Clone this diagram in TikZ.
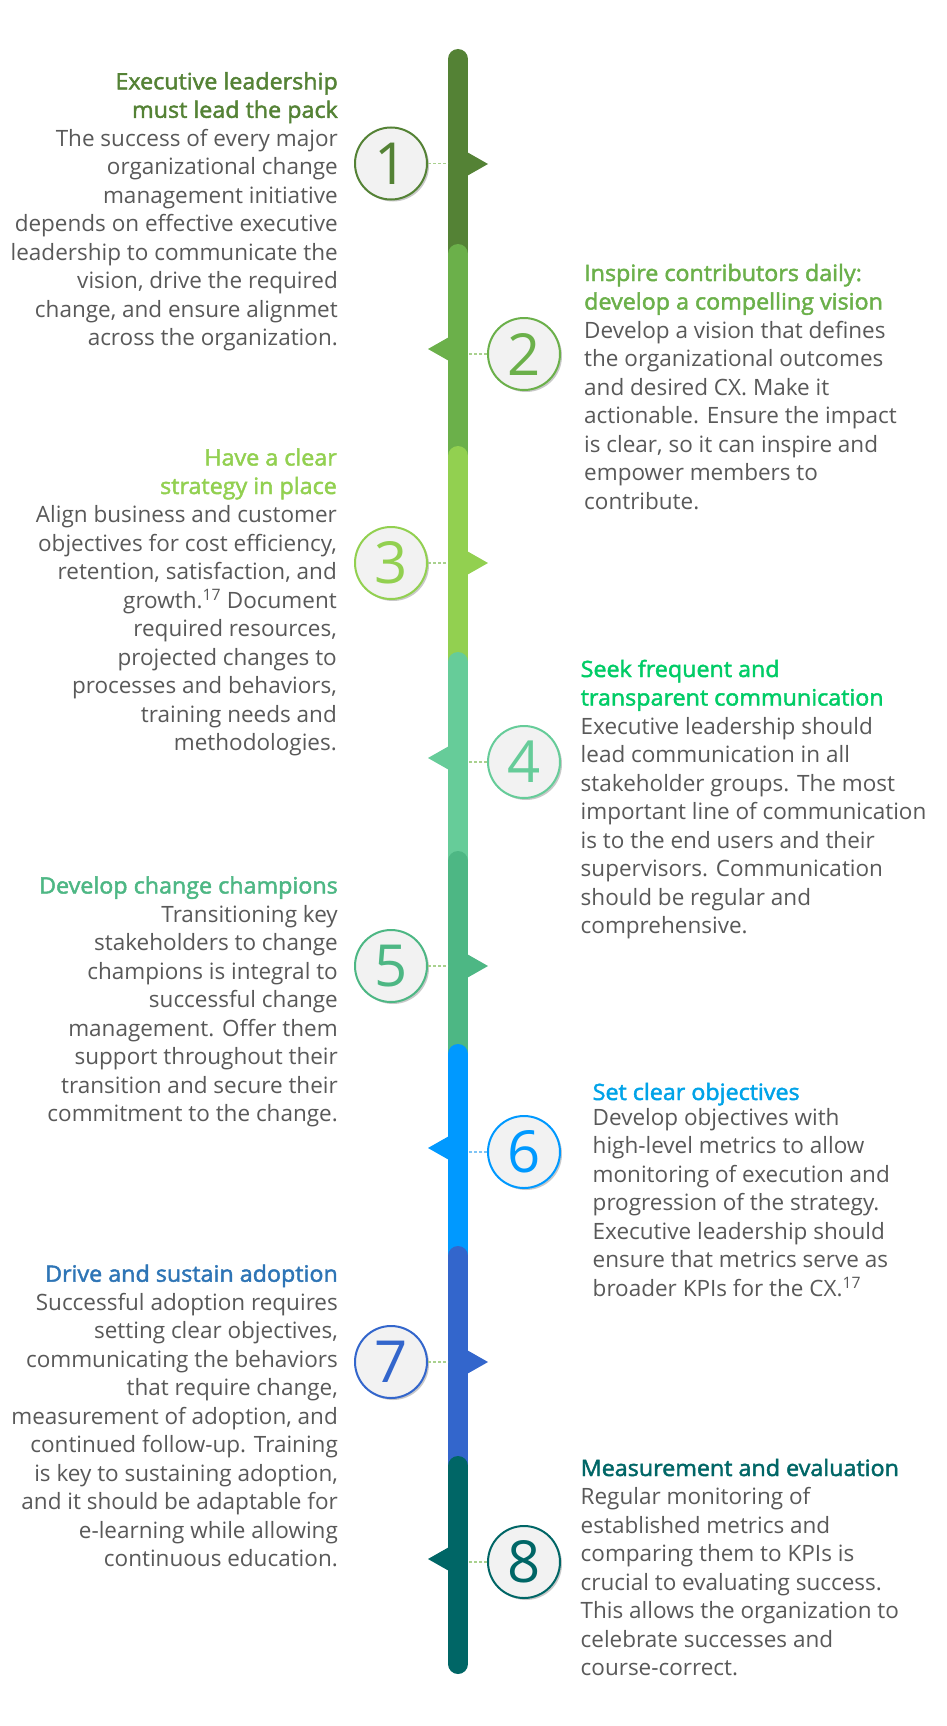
\documentclass[tikz,border=0pt]{standalone}
\usepackage{fontspec}
\setmainfont{Open Sans}
\newfontfamily\titlefont[FakeBold=2,FakeStretch=1.035]{Open Sans}
\usetikzlibrary{shadows}
\definecolor{c1}{HTML}{548235}
\definecolor{c2}{HTML}{6BB04A}
\definecolor{c3}{HTML}{92D050}
\definecolor{c4}{HTML}{66CC99}
\definecolor{c5}{HTML}{4DB784}
\definecolor{c6}{HTML}{0099FF}
\definecolor{c7}{HTML}{3366CC}
\definecolor{c8}{HTML}{006666}
\definecolor{t4}{HTML}{00CC66}
\definecolor{t6}{HTML}{00A3E8}
\definecolor{t7}{HTML}{2E75B6}
\definecolor{txt}{HTML}{595959}
\definecolor{cfill}{HTML}{F2F2F2}
\definecolor{dotg}{HTML}{A9D18E}
\definecolor{dotb}{HTML}{7FC4F5}
\newcommand\ttl[2]{{\titlefont\color{#1}#2}}
\begin{document}
\begin{tikzpicture}[x=1pt,y=-1pt,
  seg/.style={line width=20pt, line cap=round},
  num/.style={circle, draw=#1, text=#1, line width=2pt, fill=cfill, minimum size=72pt, inner sep=0pt,
    font=\fontsize{58}{58}\selectfont,
    drop shadow={shadow xshift=2pt, shadow yshift=-2pt, opacity=0.3, fill=black!70}},
  body/.style={text=txt, font=\fontsize{22.5}{28.5}\selectfont, inner sep=0pt},
  lbody/.style={body, align=right, anchor=base east},
  rbody/.style={body, align=left, anchor=base west},
  dots/.style={line width=1.5pt, dash pattern=on 3pt off 2pt}]
\useasboundingbox[fill=white] (0,0) rectangle (947,1726);
\coordinate (bl) at (448,0);
\coordinate (br) at (468,0);
% bar segments
\draw[seg, c1] (458,59) -- (458,260);
\draw[seg, c2] (458,254) -- (458,462);
\draw[seg, c3] (458,456) -- (458,668);
\draw[seg, c4] (458,662) -- (458,867);
\draw[seg, c5] (458,861) -- (458,1060);
\draw[seg, c6] (458,1054) -- (458,1262);
\draw[seg, c7] (458,1256) -- (458,1472);
\draw[seg, c8] (458,1466) -- (458,1664);
% triangles
\fill[c1] (466,151.5) -- (488,164) -- (466,176.5) -- cycle;
\fill[c2] (450,336.5) -- (428,349) -- (450,361.5) -- cycle;
\fill[c3] (466,550.5) -- (488,563) -- (466,575.5) -- cycle;
\fill[c4] (450,745.5) -- (428,758) -- (450,770.5) -- cycle;
\fill[c5] (466,953.5) -- (488,966) -- (466,978.5) -- cycle;
\fill[c6] (450,1135.5) -- (428,1148) -- (450,1160.5) -- cycle;
\fill[c7] (466,1349.5) -- (488,1362) -- (466,1374.5) -- cycle;
\fill[c8] (450,1546.5) -- (428,1559) -- (450,1571.5) -- cycle;
% circles
\node[num=c1] (n1) at (391,163.5) {1};
\node[num=c2] (n2) at (524,354) {2};
\node[num=c3] (n3) at (391,563) {3};
\node[num=c4] (n4) at (524,762) {4};
\node[num=c5] (n5) at (391,966) {5};
\node[num=c6] (n6) at (524,1152) {6};
\node[num=c7] (n7) at (391,1362) {7};
\node[num=c8] (n8) at (524,1562) {8};
% dotted connectors
\draw[dots, dotg] (n1.east) -- (n1.east -| bl);
\draw[dots, dotg] (n2.west) -- (n2.west -| br);
\draw[dots, dotg] (n3.east) -- (n3.east -| bl);
\draw[dots, dotg] (n4.west) -- (n4.west -| br);
\draw[dots, dotg] (n5.east) -- (n5.east -| bl);
\draw[dots, dotb] (n6.west) -- (n6.west -| br);
\draw[dots, dotg] (n7.east) -- (n7.east -| bl);
\draw[dots, dotg] (n8.west) -- (n8.west -| br);
% texts (anchor = baseline of last line)
\node[lbody] (d1) at (338,345.8) {\ttl{c1}{Executive leadership}\\\ttl{c1}{must lead the pack}\\
The success of every major\\organizational change\\management initiative\\depends on effective executive\\
leadership to communicate the\\vision, drive the required\\change, and ensure alignmet\\across the organization.};
\node[rbody] (d2) at (584,509) {\ttl{c2}{Inspire contributors daily:}\\\ttl{c2}{develop a compelling vision}\\
Develop a vision that defines\\the organizational outcomes\\and desired CX. Make it\\actionable. Ensure the impact\\
is clear, so it can inspire and\\empower members to\\contribute.};
\node[lbody] (d3) at (337,750.5) {\ttl{c3}{Have a clear}\\\ttl{c3}{strategy in place}\\
Align business and customer\\objectives for cost efficiency,\\retention, satisfaction, and\\growth.\textsuperscript{17} Document\\
required resources,\\projected changes to\\processes and behaviors,\\training needs and\\methodologies.};
\node[rbody] (d4) at (580.5,933.5) {\ttl{t4}{Seek frequent and}\\\ttl{t4}{transparent communication}\\
Executive leadership should\\lead communication in all\\stakeholder groups. The most\\important line of communication\\
is to the end users and their\\supervisors. Communication\\should be regular and\\comprehensive.};
\node[lbody] (d5) at (338,1121.5) {\ttl{c5}{Develop change champions}\\
Transitioning key\\stakeholders to change\\champions is integral to\\successful change\\management. Offer them\\
support throughout their\\transition and secure their\\commitment to the change.};
\node[rbody] (d6) at (592.5,1296) {\ttl{t6}{Set clear objectives}\\[-3.5pt]
Develop objectives with\\high-level metrics to allow\\monitoring of execution and\\progression of the strategy.\\
Executive leadership should\\ensure that metrics serve as\\broader KPIs for the CX.\textsuperscript{17}};
\node[lbody] (d7) at (338,1566.7) {\ttl{t7}{Drive and sustain adoption}\\
Successful adoption requires\\setting clear objectives,\\communicating the behaviors\\that require change,\\
measurement of adoption, and\\continued follow-up. Training\\is key to sustaining adoption,\\and it should be adaptable for\\
e-learning while allowing\\continuous education.};
\node[rbody] (d8) at (580.5,1675.5) {\ttl{c8}{Measurement and evaluation}\\
Regular monitoring of\\established metrics and\\comparing them to KPIs is\\crucial to evaluating success.\\
This allows the organization to\\celebrate successes and\\course-correct.};
\end{tikzpicture}
\end{document}
